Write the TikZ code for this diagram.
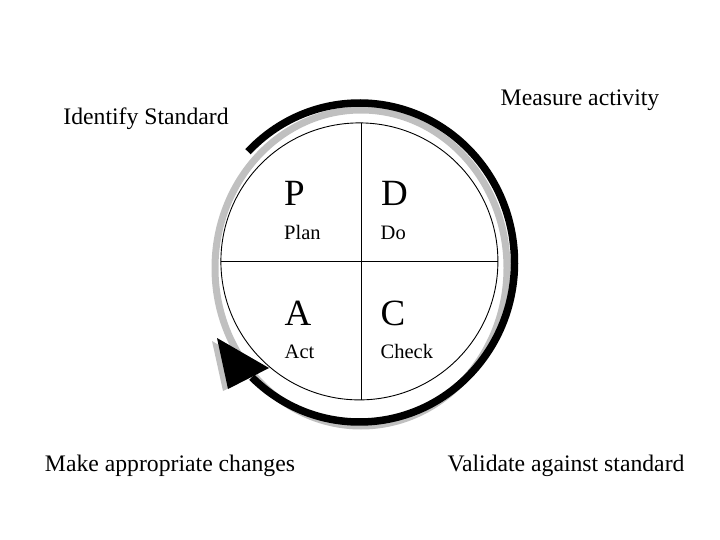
\documentclass[tikz,border=0pt]{standalone}
\usepackage{fontspec}
\setmainfont{Liberation Serif}
\begin{document}
\begin{tikzpicture}[x=1pt,y=-1pt,
  ringshadow/.style={draw=shadowgray,line width=7pt},
  cyclearc/.style={draw=black,line width=7.5pt,line cap=butt},
  bigletter/.style={anchor=base west,inner sep=0pt,font=\fontsize{37}{37}\selectfont},
  smallword/.style={anchor=base west,inner sep=0pt,font=\fontsize{20.5}{20.5}\selectfont},
  outerlabel/.style={anchor=base,inner sep=0pt,font=\fontsize{23.7}{23.7}\selectfont}]
\definecolor{shadowgray}{RGB}{192,192,192}
\useasboundingbox (0,0) rectangle (720,540);
% gray shadow ring
\draw[ringshadow] (361,268) ellipse[x radius=146,y radius=158];
% arrowhead shadow
\fill[shadowgray] (212,341) -- (263,371) -- (223,391) -- cycle;
% black cycle arc
\coordinate (arcstart) at (248.0,151.7);
\draw[cyclearc] (arcstart) arc[start angle=-136,end angle=134,x radius=155,y radius=159.5] coordinate (arcend);
% arrowhead
\fill[black] (217,338) -- (269,368) -- (228,389) -- cycle;
% main disk
\node[circle,draw=black,fill=white,line width=0.9pt,minimum size=277pt,inner sep=0pt] (disk) at (359.4,261.4) {};
\draw[line width=0.9pt] (361,122.9) -- (361,399.9);
\draw[line width=0.9pt] (220.9,261.6) -- (497.9,261.6);
% quadrant texts
\node[bigletter] (P) at (284,206) {P};
\node[bigletter] (D) at (381,206) {D};
\node[bigletter] (A) at (284.5,325) {A};
\node[bigletter] (C) at (380.5,325) {C};
\node[smallword] (plan) at (284,240) {Plan};
\node[smallword] (do) at (380.5,240) {Do};
\node[smallword] (act) at (284.5,358) {Act};
\node[smallword] (check) at (380.5,358) {Check};
% outer labels
\node[outerlabel] (identify) at (146,125) {Identify Standard};
\node[outerlabel] (measure) at (580,106) {Measure activity};
\node[outerlabel] (make) at (170,471) {Make appropriate changes};
\node[outerlabel] (validate) at (566,471) {Validate against standard};
\end{tikzpicture}
\end{document}
